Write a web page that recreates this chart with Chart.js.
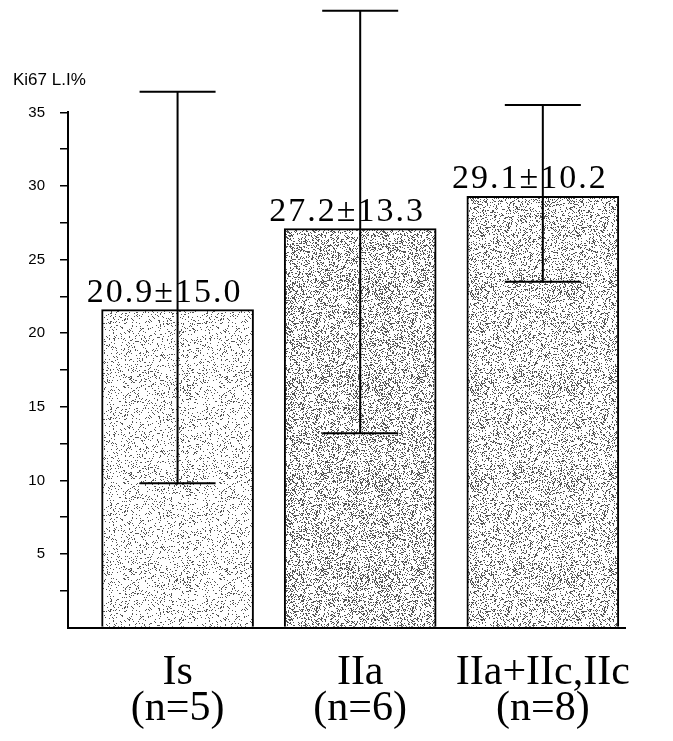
<!DOCTYPE html>
<html>
<head>
<meta charset="utf-8">
<script src="https://cdn.jsdelivr.net/npm/chart.js@4.4.0/dist/chart.umd.min.js"></script>
<style>
html, body { margin: 0; padding: 0; background: #fff; }
</style>
</head>
<body>
<canvas id="myChart" width="673" height="741"></canvas>
<script>
const categories = [['Is', '(n=5)'], ['IIa', '(n=6)'], ['IIa+IIc,IIc', '(n=8)']];
const barValues = [21.6, 27.1, 29.3];
const errLow = [9.8, 13.2, 23.5];
const errHigh = [36.4, 41.9, 35.5];
const valueLabels = ['20.9±15.0', '27.2±13.3', '29.1±10.2'];
const yMajorTicks = [5, 10, 15, 20, 25, 30, 35];

const chartCanvas = document.getElementById('myChart').getContext('2d');

// speckled grey fill like the scanned print
function stipple(density, dot) {
    const c = document.createElement('canvas');
    c.width = 96;
    c.height = 96;
    const g = c.getContext('2d');
    g.fillStyle = '#fff';
    g.fillRect(0, 0, 96, 96);
    g.fillStyle = dot;
    for (let j = 0; j < 96; j++) {
        for (let i = 0; i < 96; i++) {
            let h = (i * 374761393 + j * 668265263) | 0;
            h = Math.imul(h ^ (h >>> 13), 1274126177);
            h = (h ^ (h >>> 16)) >>> 0;
            if (h % 1000 < density * 1000) g.fillRect(i, j, 1, 1);
        }
    }
    return g.createPattern(c, 'repeat');
}

const barFills = [stipple(0.12, '#555'), stipple(0.27, '#555'), stipple(0.22, '#555')];

const errorBars = {
    id: 'errorBars',
    afterDatasetsDraw(chart) {
        const { ctx, scales: { y } } = chart;
        const meta = chart.getDatasetMeta(0);
        ctx.save();
        ctx.font = '34px "Liberation Serif", serif';
        ctx.letterSpacing = '2px';
        ctx.textAlign = 'center';
        ctx.textBaseline = 'alphabetic';
        ctx.fillStyle = '#000';
        meta.data.forEach((bar, i) => {
            ctx.fillText(valueLabels[i], bar.x - 13, bar.y - 8);
        });
        ctx.letterSpacing = '0px';
        ctx.strokeStyle = '#000';
        ctx.lineWidth = 2;
        meta.data.forEach((bar, i) => {
            const top = y.getPixelForValue(errHigh[i]);
            const bottom = y.getPixelForValue(errLow[i]);
            const half = bar.width / 4;
            ctx.beginPath();
            ctx.moveTo(bar.x, top);
            ctx.lineTo(bar.x, bottom);
            ctx.moveTo(bar.x - half, top);
            ctx.lineTo(bar.x + half, top);
            ctx.moveTo(bar.x - half, bottom);
            ctx.lineTo(bar.x + half, bottom);
            ctx.stroke();
        });
        ctx.restore();
    }
};

new Chart(chartCanvas, {
    type: 'bar',
    data: {
        datasets: [{
            data: barValues.map((v, i) => ({ x: i + 1, y: v })),
            backgroundColor: barFills,
            borderColor: '#000',
            borderWidth: 2,
            borderSkipped: 'bottom',
            barThickness: 152
        }]
    },
    options: {
        responsive: false,
        animation: false,
        layout: { padding: { left: 13, right: 48, top: 0, bottom: -14 } },
        plugins: {
            legend: { display: false },
            tooltip: { enabled: false },
            title: {
                display: true,
                text: 'Ki67 L.I%',
                align: 'start',
                color: '#000',
                font: { family: '"Liberation Sans", Arial, sans-serif', size: 17, weight: 'normal' },
                padding: { top: 70, bottom: 22 }
            }
        },
        scales: {
            x: {
                type: 'linear',
                offset: false,
                min: 0.4,
                max: 3.45,
                afterBuildTicks: (axis) => {
                    axis.ticks = categories.map((c, i) => ({ value: i + 1 }));
                },
                ticks: {
                    autoSkip: false,
                    maxRotation: 0,
                    padding: 28,
                    color: '#000',
                    font: { family: '"Liberation Serif", "Times New Roman", serif', size: 42, lineHeight: 0.85 },
                    callback: (v) => categories[Math.round(v) - 1] || ''
                },
                grid: { drawOnChartArea: false, drawTicks: false },
                border: { color: '#000', width: 2 }
            },
            y: {
                min: 0,
                max: 35,
                afterFit: (scale) => { scale.width = 55; },
                ticks: {
                    stepSize: 2.5,
                    autoSkip: false,
                    padding: 15,
                    color: '#000',
                    font: { family: '"Liberation Sans", Arial, sans-serif', size: 15 },
                    callback: (v) => yMajorTicks.includes(v) ? v : ''
                },
                grid: {
                    drawOnChartArea: false,
                    tickLength: 8,
                    lineWidth: 1.5,
                    color: (ctx) => ctx.tick && ctx.tick.value === 0 ? 'rgba(0,0,0,0)' : '#000'
                },
                border: { color: '#000', width: 2 }
            }
        }
    },
    plugins: [errorBars]
});
</script>
</body>
</html>
